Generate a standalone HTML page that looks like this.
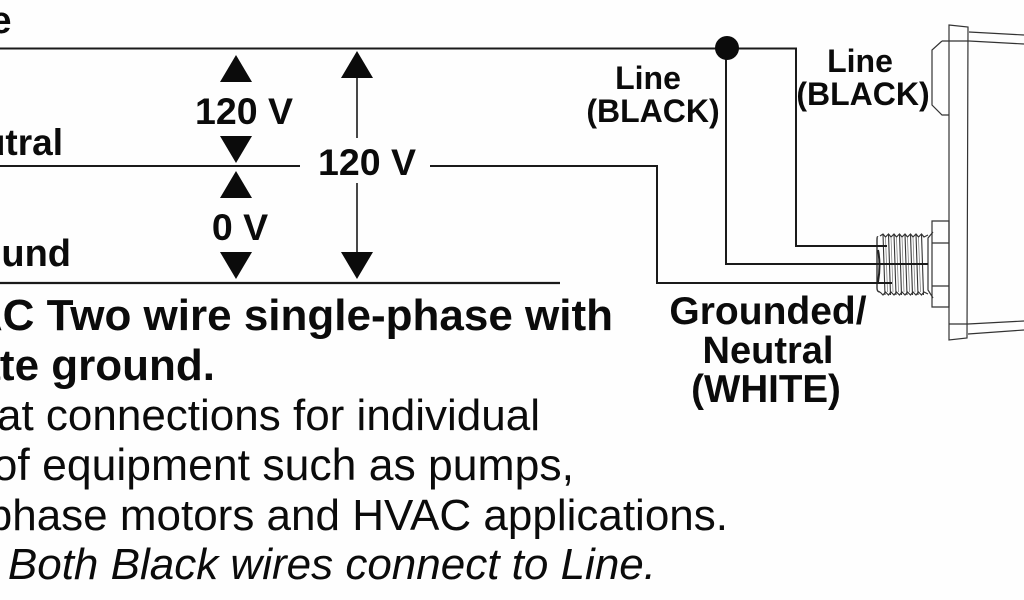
<!DOCTYPE html>
<html>
<head>
<meta charset="utf-8">
<style>
html,body{margin:0;padding:0;background:#fff}
svg{display:block}
text{font-family:"Liberation Sans",Arial,sans-serif;fill:#0b0b0b}
.b{font-weight:bold}
</style>
</head>
<body>
<svg width="1024" height="600" viewBox="0 0 1024 600" xmlns="http://www.w3.org/2000/svg">
<rect width="1024" height="600" fill="#fefefe"/>
<!-- device -->
<g fill="none" stroke="#333" stroke-width="1.2">
<path d="M949 25L968 27L967 338L949 340Z"/>
<path d="M969 32L1024 35M942 41L969 41L1024 44"/>
<path d="M942 41L932 50V105L942 115H949"/>
<path d="M968 324L1024 321M968 334L1024 330M949 324H968"/>
<path d="M932 221H949V307H932ZM932 243H949M932 286H949"/>
<path d="M933 232L928 238V290L933 298"/>
<path d="M880 236L883 234L885.5 237L888.5 234L891 237L894 234L896.5 237L899.5 234L902 237L905 234L907.5 237L910.5 234L913 237L916 234L918.5 237L921.5 234L924 237L928 235"/>
<path d="M880 292L883 295L885.5 292L888.5 295L891 292L894 295L896.5 292L899.5 295L902 292L905 295L907.5 292L910.5 295L913 292L916 295L918.5 292L921.5 295L924 292L928 294"/>
<path d="M878 237Q877 236 877 240V288Q877 292 880 292" stroke-width="1.4"/>
<path d="M883 234L885 295M888.5 234L890.5 295M894 234L896 295M899.5 234L901.5 295M905 234L907 295M910.5 234L912.5 295M916 234L918 295M921.5 234L923.5 295" stroke-width="1.1"/>
<path d="M885.5 237L887.5 292M891 237L893 292M896.5 237L898.5 292M902 237L904 292M907.5 237L909.5 292M913 237L915 292M918.5 237L920.5 292" stroke-width="0.7" stroke="#777"/>
<path d="M878 250Q881 265 878 282" stroke="#222" stroke-width="2"/>
</g>
<g fill="none" stroke="#1a1a1a">
<path d="M0 48.5H796V246H887" stroke-width="2"/>
<path d="M726 48V264H928" stroke-width="2"/>
<path d="M0 166H300M430 166H657V283H892" stroke-width="2"/>
<path d="M0 283H560" stroke-width="2.2"/>
<path d="M357 78V138M357 183V252" stroke-width="1.6"/>
</g>
<circle cx="727" cy="48" r="12" fill="#0b0b0b"/>
<g fill="#0b0b0b">
<path d="M236 55L252 82H220Z"/>
<path d="M236 163L252 136H220Z"/>
<path d="M236 171L252 198H220Z"/>
<path d="M236 279L252 252H220Z"/>
<path d="M357 51L373 78H341Z"/>
<path d="M357 279L373 252H341Z"/>
</g>
<!-- labels -->
<text class="b" x="11.5" y="33" font-size="38" text-anchor="end">Line</text>
<text class="b" x="63" y="155" font-size="37" text-anchor="end">Neutral</text>
<text class="b" x="71" y="266" font-size="38" text-anchor="end">Ground</text>
<text class="b" x="244" y="124" font-size="37.5" text-anchor="middle">120 V</text>
<text class="b" x="240" y="240" font-size="37.5" text-anchor="middle">0 V</text>
<text class="b" x="367" y="175" font-size="37.5" text-anchor="middle">120 V</text>
<text class="b" x="648" y="89" font-size="32" text-anchor="middle">Line</text>
<text class="b" x="653" y="122" font-size="32" text-anchor="middle">(BLACK)</text>
<text class="b" x="860" y="72" font-size="32" text-anchor="middle">Line</text>
<text class="b" x="863" y="105" font-size="32" text-anchor="middle">(BLACK)</text>
<text class="b" x="768" y="324" font-size="39" text-anchor="middle">Grounded/</text>
<text class="b" x="768" y="363" font-size="38" text-anchor="middle">Neutral</text>
<text class="b" x="766" y="402" font-size="38.5" text-anchor="middle">(WHITE)</text>
<!-- body text -->
<text class="b" x="613" y="330" font-size="44" text-anchor="end">VAC Two wire single-phase with</text>
<text class="b" x="215" y="380" font-size="44" text-anchor="end">separate ground.</text>
<text x="540" y="430" font-size="44" text-anchor="end">Repeat connections for individual</text>
<text x="574" y="480" font-size="44.5" text-anchor="end">pieces of equipment such as pumps,</text>
<text x="728" y="530" font-size="44" text-anchor="end">single-phase motors and HVAC applications.</text>
<text x="656" y="579" font-size="44" font-style="italic" text-anchor="end">Note: Both Black wires connect to Line.</text>
</svg>
</body>
</html>
